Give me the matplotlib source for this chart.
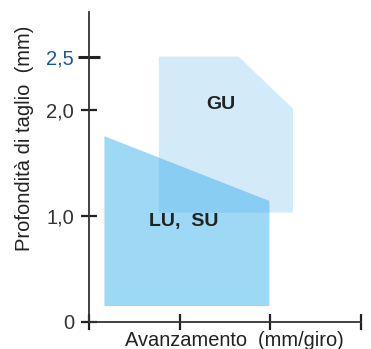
import matplotlib
matplotlib.use("Agg")
import matplotlib.pyplot as plt

plt.rcParams['font.family'] = ['Liberation Sans', 'DejaVu Sans']

# Data (feed mm/rev, depth of cut mm)
lu_feed = [0.17, 1.99, 1.99, 0.17]
lu_depth = [1.75, 1.14, 0.15, 0.15]
gu_feed = [0.77, 1.65, 2.25, 2.25, 0.77]
gu_depth = [2.50, 2.50, 2.01, 1.03, 1.03]
region_labels = ["LU,  SU", "GU"]
label_pos = [(1.04, 0.905), (1.46, 2.01)]
x_ticks = [0, 1, 2, 3]
y_ticks = [0, 1, 2]
y_ticklabels = ["0", "1,0", "2,0"]
hi_tick = 2.5
hi_label = "2,5"

fig = plt.figure(figsize=(3.71, 3.49), dpi=100)
ax = fig.add_axes([0.2399, 0.0774, 0.7331, 0.8882])
ax.set_xlim(0, 3)
ax.set_ylim(0, 2.92)

ax.fill(lu_feed, lu_depth, color='#9dd8f5', lw=0, zorder=1)
ax.fill(gu_feed, gu_depth, color=(83/255, 175/255, 235/255), alpha=0.25, lw=0, zorder=2)

for lbl, (x, y) in zip(region_labels, label_pos):
    ax.text(x, y, lbl, ha='center', va='baseline', fontsize=14,
            fontweight='bold', color='#222222', zorder=3)

for s in ['top', 'right']:
    ax.spines[s].set_visible(False)
for s in ['left', 'bottom']:
    ax.spines[s].set_color('#333333')
    ax.spines[s].set_linewidth(1.3)

ax.set_xticks(x_ticks)
ax.set_xticklabels([])
ax.set_yticks(y_ticks + [hi_tick])
ax.set_yticklabels(y_ticklabels + [hi_label])
ax.tick_params(axis='both', direction='inout', length=11.5, width=1.6,
               color='#222222', labelsize=14.5, labelcolor='#333333', pad=5)

# highlighted 2,5 tick
hl = ax.yaxis.get_major_ticks()[-1]
hl.tick1line.set_color('#1a55a3')
hl.tick1line.set_markersize(16)
hl.tick1line.set_markeredgewidth(2.2)
hl.label1.set_color('#1a55a3')

fig.text(234 / 371, 3.5 / 349, "Avanzamento  (mm/giro)", fontsize=14.4,
         color='#222222', ha='center', va='baseline')
fig.text(25 / 371, 1 - 138.5 / 349, "Profondità di taglio  (mm)", fontsize=14.5,
         color='#222222', ha='center', va='center', rotation=90)

fig.savefig("out.png", dpi=100)
